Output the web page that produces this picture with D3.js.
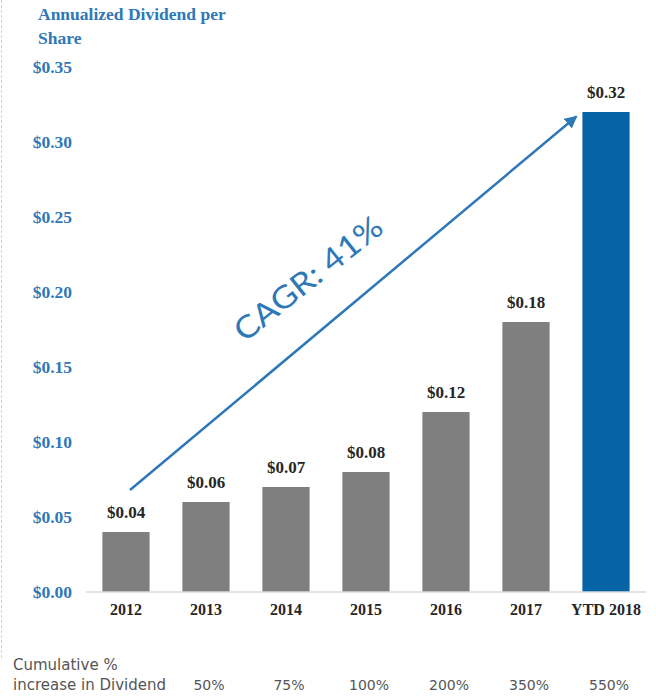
<!DOCTYPE html>
<html>
<head>
<meta charset="utf-8">
<script src="https://cdn.jsdelivr.net/npm/d3@7"></script>
<style>
  body { margin: 0; background: #fff; }
  svg { display: block; }
</style>
</head>
<body>
<script>
// chart data
var categories = ["2012", "2013", "2014", "2015", "2016", "2017", "YTD 2018"];
var dividends = [0.04, 0.06, 0.07, 0.08, 0.12, 0.18, 0.32];
var cumulative = ["", "50%", "75%", "100%", "200%", "350%", "550%"];
var yTicks = [0, 0.05, 0.10, 0.15, 0.20, 0.25, 0.30, 0.35];
var cagrLabel = "CAGR: 41%";
// arrow runs from about $0.068 over 2012 up to $0.317 next to the YTD bar
var arrowFrom = ["2012", 0.068];
var arrowTo = ["YTD 2018", 0.317];

var width = 656, height = 698;
var blue = "#2e78b7";
var serif = "'Liberation Serif', 'Times New Roman', serif";
var sans = "'DejaVu Sans', 'Noto Sans', sans-serif";

var svg = d3.select("body").append("svg")
    .attr("width", width)
    .attr("height", height);

var x = d3.scaleBand()
    .domain(categories)
    .range([86, 646])
    .paddingInner(0.41)
    .paddingOuter(0.205);

var y = d3.scaleLinear()
    .domain([0, 0.35])
    .range([592, 67]);

// faint left frame
svg.append("line")
    .attr("x1", 1.5).attr("x2", 1.5)
    .attr("y1", 0).attr("y2", 660)
    .attr("stroke", "#d0d0d0")
    .attr("stroke-dasharray", "3,2");

// title
svg.append("text")
    .attr("x", 38)
    .attr("y", 20)
    .attr("fill", blue)
    .style("font-family", serif)
    .style("font-weight", "bold")
    .style("font-size", "17.5px")
    .selectAll("tspan")
    .data(["Annualized Dividend per", "Share"])
    .enter().append("tspan")
    .attr("x", 38)
    .attr("dy", function(d, i) { return i ? 24 : 0; })
    .text(function(d) { return d; });

// Y axis labels
var yAxis = svg.append("g")
    .attr("transform", "translate(75,0)")
    .call(d3.axisLeft(y)
        .tickValues(yTicks)
        .tickSize(0)
        .tickPadding(3)
        .tickFormat(function(d) { return "$" + d3.format(".2f")(d); }));

yAxis.select(".domain").remove();
yAxis.selectAll("text")
    .attr("fill", blue)
    .style("font-family", serif)
    .style("font-weight", "bold")
    .style("font-size", "17.5px");

// bars
svg.selectAll(".bar")
    .data(dividends)
    .enter().append("rect")
    .attr("class", "bar")
    .attr("x", function(d, i) { return x(categories[i]); })
    .attr("width", x.bandwidth())
    .attr("y", function(d) { return y(d); })
    .attr("height", function(d) { return y(0) - y(d); })
    .attr("fill", function(d, i) { return i === categories.length - 1 ? "#0563a6" : "#7f7f7f"; });

// baseline
svg.append("line")
    .attr("x1", 86).attr("x2", 646)
    .attr("y1", y(0)).attr("y2", y(0))
    .attr("stroke", "#d9d9d9")
    .attr("stroke-width", 1.5);

// value labels
svg.selectAll(".val")
    .data(dividends)
    .enter().append("text")
    .attr("class", "val")
    .attr("x", function(d, i) { return x(categories[i]) + x.bandwidth() / 2; })
    .attr("y", function(d) { return y(d) - 14; })
    .attr("text-anchor", "middle")
    .attr("fill", "#262626")
    .style("font-family", serif)
    .style("font-weight", "bold")
    .style("font-size", "17px")
    .text(function(d) { return "$" + d3.format(".2f")(d); });

// X axis labels
var xAxis = svg.append("g")
    .attr("transform", "translate(0," + y(0) + ")")
    .call(d3.axisBottom(x).tickSize(0).tickPadding(12));

xAxis.select(".domain").remove();
xAxis.selectAll("text")
    .attr("fill", "#262626")
    .style("font-family", serif)
    .style("font-weight", "bold")
    .style("font-size", "16px");

// bottom row
svg.append("text")
    .attr("x", 13).attr("y", 670)
    .attr("fill", "#555")
    .style("font-family", sans)
    .style("font-size", "15px")
    .text("Cumulative %");

svg.append("text")
    .attr("x", 13).attr("y", 690)
    .attr("fill", "#555")
    .style("font-family", sans)
    .style("font-size", "15px")
    .text("increase in Dividend");

svg.selectAll(".cum")
    .data(cumulative)
    .enter().append("text")
    .attr("class", "cum")
    .attr("x", function(d, i) { return x(categories[i]) + x.bandwidth() / 2 + 3; })
    .attr("y", 690)
    .attr("text-anchor", "middle")
    .attr("fill", "#555")
    .style("font-family", sans)
    .style("font-size", "14px")
    .text(function(d) { return d; });

// CAGR arrow
var defs = svg.append("defs");
defs.append("marker")
    .attr("id", "arrowhead")
    .attr("viewBox", "0 0 10 10")
    .attr("refX", 9)
    .attr("refY", 5)
    .attr("markerWidth", 5)
    .attr("markerHeight", 5)
    .attr("orient", "auto")
    .append("path")
    .attr("d", "M0,0 L10,5 L0,10 z")
    .attr("fill", blue);

var ax1 = x(arrowFrom[0]) + x.bandwidth() / 2 + 4,
    ay1 = y(arrowFrom[1]),
    ax2 = x(arrowTo[0]) - 6,
    ay2 = y(arrowTo[1]);

svg.append("line")
    .attr("x1", ax1).attr("y1", ay1)
    .attr("x2", ax2).attr("y2", ay2)
    .attr("stroke", blue)
    .attr("stroke-width", 2.5)
    .attr("marker-end", "url(#arrowhead)");

var angle = Math.atan2(ay2 - ay1, ax2 - ax1) * 180 / Math.PI;

svg.append("text")
    .attr("transform", "translate(315,287) rotate(" + (angle + 1.5) + ")")
    .attr("text-anchor", "middle")
    .attr("fill", blue)
    .attr("textLength", 180)
    .attr("lengthAdjust", "spacingAndGlyphs")
    .style("font-family", "Lato, 'Noto Sans', sans-serif")
    .style("font-weight", "400")
    .style("font-size", "31px")
    .text(cagrLabel);
</script>
</body>
</html>
